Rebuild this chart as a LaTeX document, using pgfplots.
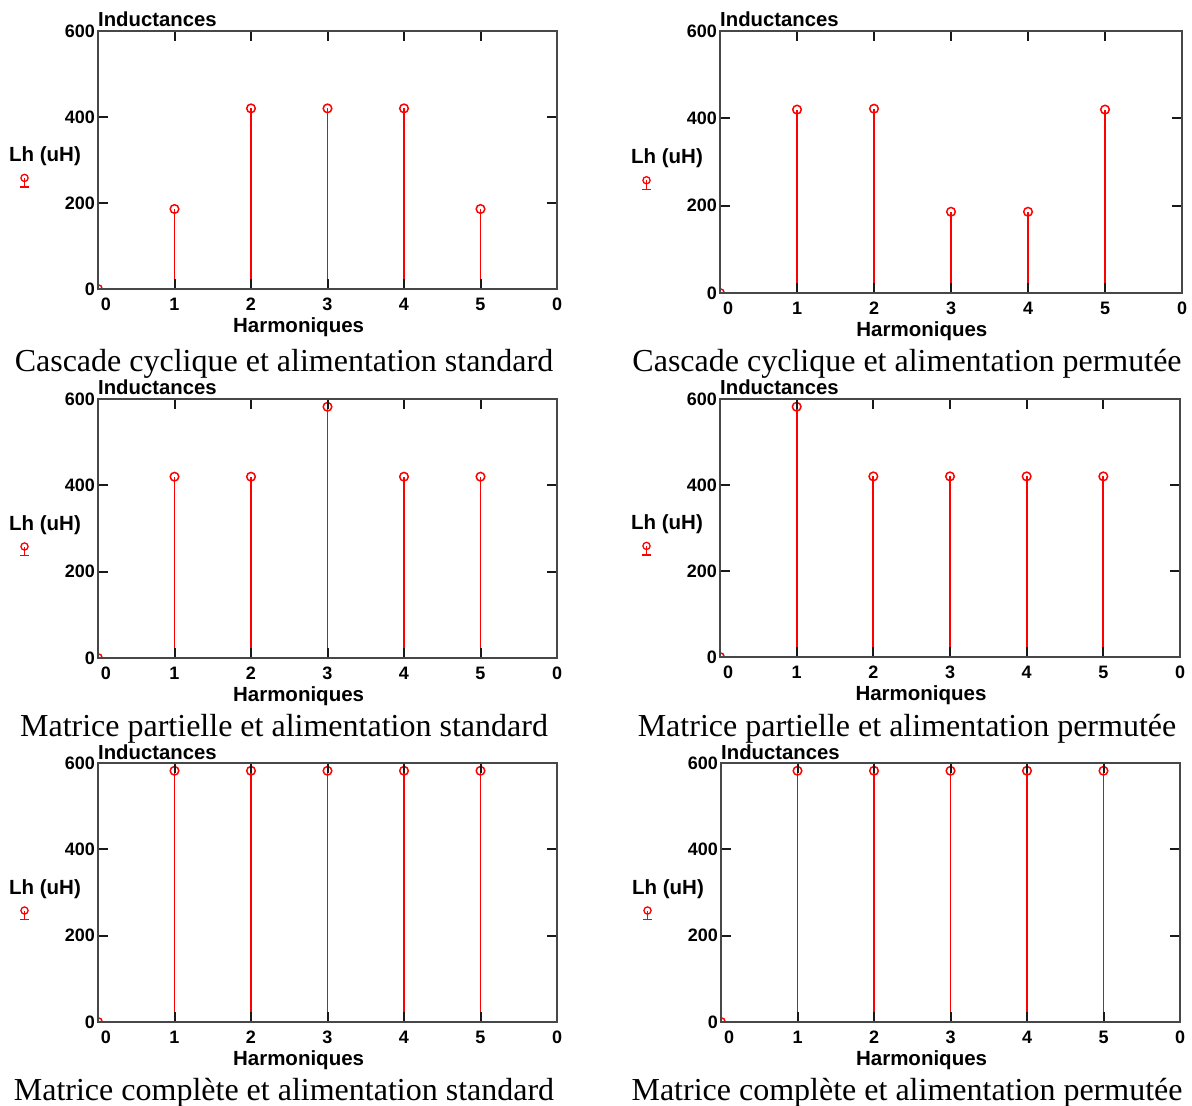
\documentclass[border=0pt]{standalone}
\usepackage{fontspec}
\setmainfont{Liberation Serif}
\setsansfont{Liberation Sans}
\usepackage{pgfplots}
\pgfplotsset{compat=1.18}

\pgfplotsset{
  stemaxis/.style={
    scale only axis,
    anchor=south west,
    xmin=0, xmax=6, ymin=0, ymax=600,
    xtick={0,1,2,3,4,5,6},
    xticklabels={\hspace{16bp}0,1,2,3,4,5,0},
    ytick={0,200,400,600},
    tick align=inside,
    major tick length=10bp,
    axis line style={black!72, line width=2bp},
    tick style={black!90, line width=2bp},
    axis on top,
    clip marker paths=true,
    /pgf/number format/assume math mode=true,
    ticklabel style={font=\sffamily\bfseries\fontsize{18bp}{20bp}\selectfont},
    xticklabel style={inner sep=0pt, yshift=-9bp},
    yticklabel style={inner sep=0pt, xshift=-3bp},
    title={Inductances},
    every axis title/.style={at={(rel axis cs:0,1)}, anchor=base west, yshift=4bp, inner sep=0pt,
      font=\sffamily\bfseries\fontsize{20.3bp}{22bp}\selectfont},
    xlabel={Harmoniques},
    every axis x label/.style={at={(rel axis cs:0.437,0)}, anchor=center, yshift=-38bp,
      font=\sffamily\bfseries\fontsize{20.5bp}{22bp}\selectfont},
    ylabel={Lh (uH)},
    every axis y label/.style={at={(rel axis cs:0,0.513)}, anchor=center, xshift=-53bp,
      font=\sffamily\bfseries\fontsize{20.5bp}{22bp}\selectfont},
    legend style={at={(rel axis cs:0,0.42)}, anchor=center, xshift=-73bp, draw=none, fill=none,
      inner sep=0pt, nodes={inner sep=0pt}},
    legend image code/.code={
      \draw[red, line width=1.3bp] (0bp,-6bp) -- (0bp,3bp) (-4.5bp,-6bp) -- (4.5bp,-6bp);
      \draw[red, line width=1.3bp] (0bp,3bp) circle (3.6bp);
    },
  },
  stem/.style={red, line width=1.8bp, ycomb, mark=o, mark size=4.3bp, mark options={line width=1.5bp, solid}},
}

\begin{document}
\begin{tikzpicture}
\useasboundingbox (0,0) rectangle (1192bp,1106bp);

% Row 1 left
\begin{axis}[stemaxis, at={(98bp,817bp)}, width=459bp, height=258bp]
\addplot[stem] coordinates {(0,0) (1,186) (2,420) (3,420) (4,420) (5,186)};
\addlegendentry{}
\end{axis}
% Row 1 right
\begin{axis}[stemaxis, at={(720bp,813bp)}, width=462bp, height=262bp]
\addplot[stem] coordinates {(0,0) (1,420) (2,422) (3,186) (4,186) (5,420)};
\addlegendentry{}
\end{axis}
% Row 2 left
\begin{axis}[stemaxis, at={(98bp,448bp)}, width=459bp, height=259bp]
\addplot[stem] coordinates {(0,0) (1,420) (2,420) (3,582) (4,420) (5,420)};
\addlegendentry{}
\end{axis}
% Row 2 right
\begin{axis}[stemaxis, at={(720bp,449bp)}, width=460bp, height=258bp]
\addplot[stem] coordinates {(0,0) (1,582) (2,420) (3,420) (4,420) (5,420)};
\addlegendentry{}
\end{axis}
% Row 3 left
\begin{axis}[stemaxis, at={(98bp,84bp)}, width=459bp, height=259bp]
\addplot[stem] coordinates {(0,0) (1,582) (2,582) (3,582) (4,582) (5,582)};
\addlegendentry{}
\end{axis}
% Row 3 right
\begin{axis}[stemaxis, at={(721bp,84bp)}, width=459bp, height=259bp]
\addplot[stem] coordinates {(0,0) (1,582) (2,582) (3,582) (4,582) (5,582)};
\addlegendentry{}
\end{axis}

\begin{scope}[every node/.style={anchor=base, inner sep=0pt, font=\fontsize{32bp}{34bp}\selectfont}]
\node at (284bp,734bp) {Cascade cyclique et alimentation standard};
\node at (907bp,734bp) {Cascade cyclique et alimentation permutée};
\node at (284bp,369bp) {Matrice partielle et alimentation standard};
\node at (907bp,369bp) {Matrice partielle et alimentation permutée};
\node at (284bp,6bp) {Matrice complète et alimentation standard};
\node at (907bp,6bp) {Matrice complète et alimentation permutée};
\end{scope}
\end{tikzpicture}
\end{document}
